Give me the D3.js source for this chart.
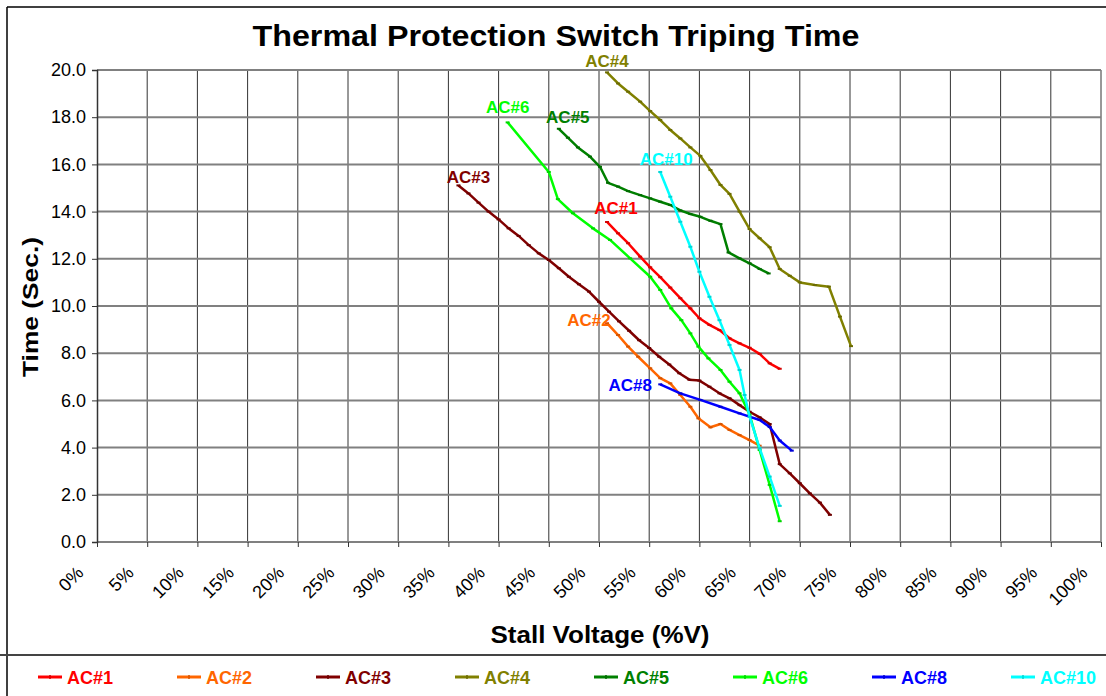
<!DOCTYPE html>
<html><head><meta charset="utf-8">
<script src="https://cdn.jsdelivr.net/npm/d3@7"></script>
<style>body{margin:0;background:#fff}svg{display:block;font-family:"Liberation Sans",Arial,sans-serif}</style>
</head><body><svg id="c" width="1106" height="696"></svg>
<script>
const title = "Thermal Protection Switch Triping Time";
const xTitle = "Stall Voltage (%V)";
const yTitle = "Time (Sec.)";
const xTicks = [0,5,10,15,20,25,30,35,40,45,50,55,60,65,70,75,80,85,90,95,100];
const yTicks = [0,2,4,6,8,10,12,14,16,18,20];
const seriesNames = ["AC#1","AC#2","AC#3","AC#4","AC#5","AC#6","AC#8","AC#10"];
const seriesColors = ["#FF0000","#FF6600","#800000","#808000","#008000","#00FF00","#0000FF","#00FFFF"];
// [stall voltage %, time s]
const ac1 = [[50.8,13.56],[51.9,13.08],[52.9,12.66],[54.1,12.09],[55.1,11.64],[56.1,11.22],[57.1,10.78],[58.1,10.33],[59.1,9.9],[60.0,9.48],[61.0,9.2],[62.0,8.98],[63.0,8.63],[64.0,8.42],[65.0,8.23],[66.0,7.97],[67.0,7.57],[68.0,7.34]];
const ac2 = [[50.8,9.27],[51.9,8.77],[52.9,8.28],[53.9,7.85],[55.1,7.36],[56.1,6.94],[57.1,6.72],[58.1,6.23],[59.1,5.73],[59.9,5.24],[61.1,4.86],[62.1,5.0],[63.0,4.75],[64.0,4.53],[65.0,4.32],[66.0,4.08]];
const ac3 = [[36.0,15.11],[37.0,14.77],[38.0,14.38],[39.0,14.0],[40.0,13.67],[41.0,13.29],[42.0,12.97],[43.0,12.58],[44.0,12.23],[45.0,11.95],[46.0,11.6],[47.0,11.24],[48.0,10.92],[49.0,10.61],[50.0,10.18],[51.0,9.76],[52.0,9.35],[53.0,8.95],[54.0,8.55],[55.0,8.22],[56.0,7.85],[57.0,7.52],[58.0,7.15],[59.0,6.88],[60.0,6.84],[61.0,6.58],[62.0,6.3],[63.0,6.09],[64.0,5.8],[65.0,5.52],[66.0,5.28],[67.0,5.0],[68.0,3.3],[69.0,2.91],[70.0,2.49],[71.0,2.06],[72.0,1.67],[73.0,1.15]];
const ac4 = [[50.8,19.9],[51.9,19.43],[52.9,19.08],[54.1,18.66],[55.1,18.26],[56.1,17.88],[57.1,17.46],[58.1,17.1],[59.1,16.72],[60.1,16.36],[61.1,15.76],[62.1,15.13],[63.0,14.75],[64.0,14.0],[65.0,13.26],[66.0,12.87],[67.0,12.49],[68.0,11.57],[69.0,11.28],[70.0,11.0],[71.5,10.89],[72.9,10.82],[74.0,9.55],[75.1,8.3]];
const ac5 = [[46.0,17.51],[46.9,17.13],[47.9,16.72],[49.1,16.33],[50.1,15.9],[50.9,15.22],[51.9,15.06],[52.9,14.87],[54.1,14.7],[55.1,14.56],[56.1,14.42],[57.1,14.28],[58.1,14.05],[59.1,13.9],[60.1,13.78],[61.1,13.61],[62.1,13.47],[62.9,12.27],[64.0,12.02],[65.0,11.81],[66.0,11.57],[66.9,11.38]];
const ac6 = [[40.9,17.78],[45.0,15.68],[45.9,14.53],[47.4,13.93],[49.4,13.29],[51.1,12.8],[53.1,12.02],[55.1,11.24],[56.1,10.68],[57.2,9.9],[58.2,9.4],[59.1,8.84],[59.9,8.28],[60.9,7.78],[62.1,7.29],[63.0,6.79],[64.0,6.3],[65.0,5.4],[66.0,3.9],[67.0,2.42],[68.0,0.88]];
const ac8 = [[56.1,6.68],[58.1,6.3],[60.1,6.02],[62.1,5.73],[64.0,5.45],[66.0,5.17],[67.0,4.87],[68.0,4.3],[69.2,3.87]];
const ac10 = [[56.1,15.68],[57.1,14.63],[58.1,13.57],[59.1,12.51],[60.0,11.45],[61.0,10.39],[62.0,9.4],[63.0,8.35],[64.0,7.29],[64.5,6.23],[65.0,5.31],[66.0,3.97],[67.0,2.77],[68.0,1.53]];
const seriesData = [ac1,ac2,ac3,ac4,ac5,ac6,ac8,ac10];
// label offsets from first point (style)
const labelOffsets = [[9,-8],[-18,3],[10,-2],[0,-5],[9,-6],[0,-9],[-30,7],[6,-7]];

const svg = d3.select("#c");
svg.append("rect").attr("width",1106).attr("height",696).attr("fill","#fff");
const x = d3.scaleLinear().domain([0,100]).range([97,1101]);
const y = d3.scaleLinear().domain([0,20]).range([542,70]);

// frame
svg.append("line").attr("x1",7).attr("x2",7).attr("y1",7).attr("y2",696).attr("stroke","#000").attr("stroke-width",1.5);
svg.append("line").attr("x1",7).attr("x2",1106).attr("y1",7).attr("y2",7).attr("stroke","#000").attr("stroke-width",1.5);
svg.append("line").attr("x1",0).attr("x2",1106).attr("y1",655).attr("y2",655).attr("stroke","#444").attr("stroke-width",2);

// gridlines
svg.append("g").selectAll("line").data(xTicks.filter(d=>d>0)).join("line")
  .attr("x1",d=>x(d)).attr("x2",d=>x(d)).attr("y1",y(20)).attr("y2",y(0))
  .attr("stroke","#333").attr("stroke-width",1);
svg.append("g").selectAll("line").data(yTicks).join("line")
  .attr("x1",x(0)).attr("x2",x(100)).attr("y1",d=>y(d)).attr("y2",d=>y(d))
  .attr("stroke","#808080").attr("stroke-width",2);

// axes
const yAxis = d3.axisLeft(y).tickValues(yTicks).tickFormat(d3.format(".1f")).tickSize(5).tickPadding(6);
const gy = svg.append("g").attr("transform",`translate(${x(0)},0)`).call(yAxis);
gy.select(".domain").attr("stroke","#333").attr("stroke-width",1.5);
gy.selectAll(".tick line").attr("stroke","#333");
gy.selectAll("text").attr("font-size",18).attr("fill","#000").attr("font-family","Liberation Sans, Arial, sans-serif");

const xAxis = d3.axisBottom(x).tickValues(xTicks).tickFormat(d=>d+"%").tickSize(5);
const gx = svg.append("g").attr("transform",`translate(0,${y(0)})`).call(xAxis);
gx.select(".domain").remove();
gx.selectAll(".tick line").attr("stroke","#333");
gx.selectAll("text").attr("font-size",18).attr("fill","#000").attr("font-family","Liberation Sans, Arial, sans-serif")
  .attr("text-anchor","end").attr("dy",0).attr("y",0)
  .attr("transform","translate(-13,32) rotate(-45)");

// titles
svg.append("text").attr("x",556).attr("y",46).attr("text-anchor","middle").attr("font-size",30).attr("font-weight","bold")
  .attr("textLength",607).attr("lengthAdjust","spacingAndGlyphs").text(title);
svg.append("text").attr("x",600).attr("y",643).attr("text-anchor","middle").attr("font-size",23).attr("font-weight","bold")
  .attr("textLength",219).attr("lengthAdjust","spacingAndGlyphs").text(xTitle);
svg.append("text").attr("transform","translate(38,307) rotate(-90)").attr("text-anchor","middle").attr("font-size",22).attr("font-weight","bold")
  .attr("textLength",140).attr("lengthAdjust","spacingAndGlyphs").text(yTitle);

// series
const line = d3.line().x(d=>x(d[0])).y(d=>y(d[1]));
seriesData.forEach((data,i)=>{
  const c = seriesColors[i];
  svg.append("path").datum(data).attr("d",line).attr("fill","none").attr("stroke",c).attr("stroke-width",2.5).attr("stroke-linejoin","round");
  svg.append("g").selectAll("line").data(data).join("line")
    .attr("x1",d=>x(d[0])-2).attr("x2",d=>x(d[0])+2).attr("y1",d=>y(d[1])).attr("y2",d=>y(d[1]))
    .attr("stroke",d3.color(c).darker(0.5)).attr("stroke-width",2);
  const f = data[0];
  svg.append("text").attr("x",x(f[0])+labelOffsets[i][0]).attr("y",y(f[1])+labelOffsets[i][1])
    .attr("text-anchor","middle").attr("font-size",17).attr("font-weight","bold").attr("fill",c).text(seriesNames[i]);
});

// legend
const lg = svg.append("g");
seriesNames.forEach((n,i)=>{
  const lx = 38 + i*139;
  lg.append("line").attr("x1",lx).attr("x2",lx+24).attr("y1",677).attr("y2",677).attr("stroke",seriesColors[i]).attr("stroke-width",3);
  lg.append("line").attr("x1",lx+12).attr("x2",lx+12).attr("y1",675).attr("y2",679).attr("stroke",d3.color(seriesColors[i]).darker(0.5)).attr("stroke-width",1.5);
  lg.append("text").attr("x",lx+29).attr("y",684).attr("font-size",18).attr("font-weight","bold").attr("fill",seriesColors[i]).text(n);
});
</script></body></html>
